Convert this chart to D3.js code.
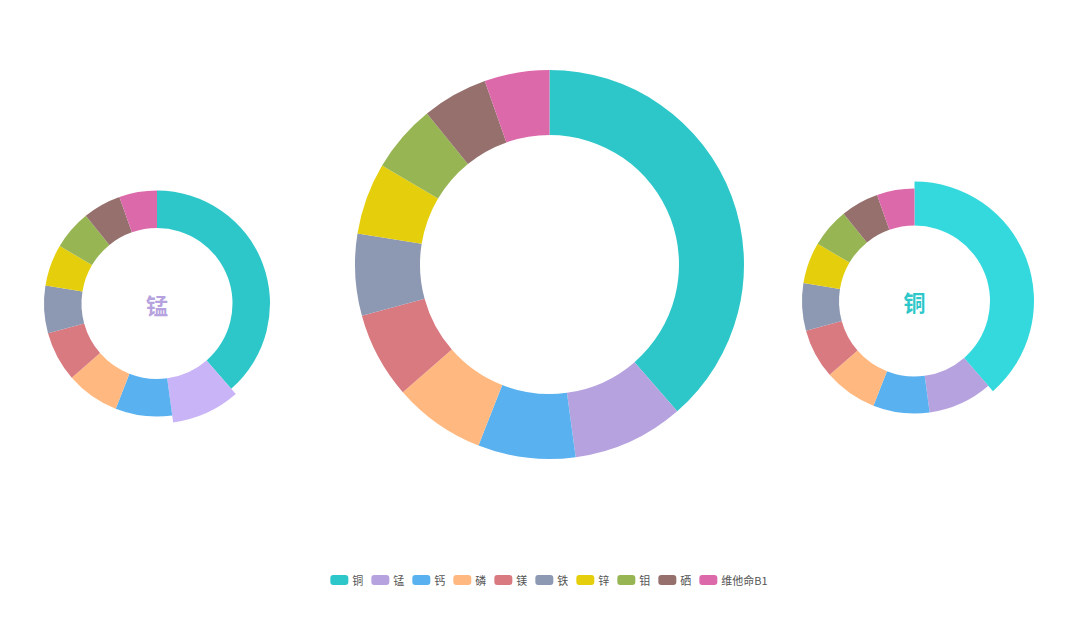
<!DOCTYPE html>
<html>
<head>
<meta charset="utf-8">
<script src="https://cdn.jsdelivr.net/npm/d3@7"></script>
<style>
  html, body { margin: 0; padding: 0; background: #ffffff; }
  svg { display: block; font-family: "Noto Sans CJK SC", "Noto Sans", sans-serif; }
</style>
</head>
<body>
<svg id="chart" width="1080" height="629"></svg>
<script>
// Data
const categories = ["铜", "锰", "钙", "磷", "镁", "铁", "锌", "钼", "硒", "维他命B1"];
const values = [38.6, 9.25, 8.1, 7.65, 7.15, 6.8, 5.95, 5.65, 5.45, 5.4];
const colors = ["#2ec7c9", "#b6a2de", "#5ab1ef", "#ffb980", "#d87a80", "#8d98b3", "#e5cf0d", "#97b552", "#95706d", "#dc69aa"];
const emphasisColors = ["#33d9dd", "#c8b4f6"];

// Three donuts: left highlights 锰, middle none, right highlights 铜
const donuts = [
  { cx: 157, cy: 303.5, inner: 75.5, outer: 113, highlight: "锰", emph: "#c8b4f6" },
  { cx: 549.5, cy: 264.5, inner: 129.5, outer: 194.5, highlight: null, emph: null },
  { cx: 914.5, cy: 301, inner: 75.5, outer: 112.5, highlight: "铜", emph: "#33d9dd" }
];
const hoverOffset = 7;

const svg = d3.select("#chart");
const data = categories.map((c, i) => ({ name: c, value: values[i] }));
const pie = d3.pie().sort(null).value(d => d.value).startAngle(0).endAngle(2 * Math.PI);
const color = d3.scaleOrdinal().domain(categories).range(colors);

donuts.forEach(dn => {
  const g = svg.append("g").attr("transform", `translate(${dn.cx},${dn.cy})`);
  const arcs = pie(data);
  g.selectAll("path")
    .data(arcs)
    .join("path")
    .attr("d", d => d3.arc()
      .innerRadius(dn.inner)
      .outerRadius(d.data.name === dn.highlight ? dn.outer + hoverOffset : dn.outer)(d))
    .attr("fill", d => d.data.name === dn.highlight ? dn.emph : color(d.data.name));
  if (dn.highlight) {
    g.append("text")
      .attr("text-anchor", "middle")
      .attr("dominant-baseline", "central")
      .attr("font-size", 22)
      .attr("font-weight", "bold")
      .attr("fill", color(dn.highlight))
      .text(dn.highlight);
  }
});

// Legend
const legend = svg.append("g");
const swW = 18, swH = 10, txtGap = 4, itemGap = 8, fontSize = 11;
let x = 0;
const items = [];
categories.forEach((c, i) => {
  const ig = legend.append("g").attr("transform", `translate(${x},0)`);
  ig.append("rect")
    .attr("x", 0).attr("y", -swH / 2)
    .attr("width", swW).attr("height", swH)
    .attr("rx", 3).attr("ry", 3)
    .attr("fill", color(c));
  const t = ig.append("text")
    .attr("x", swW + txtGap)
    .attr("y", 0)
    .attr("dominant-baseline", "central")
    .attr("font-size", fontSize)
    .attr("fill", "#555")
    .text(c);
  const w = t.node().getComputedTextLength();
  x += swW + txtGap + w + itemGap;
});
const totalW = x - itemGap;
legend.attr("transform", `translate(${549 - totalW / 2},580)`);
</script>
</body>
</html>
